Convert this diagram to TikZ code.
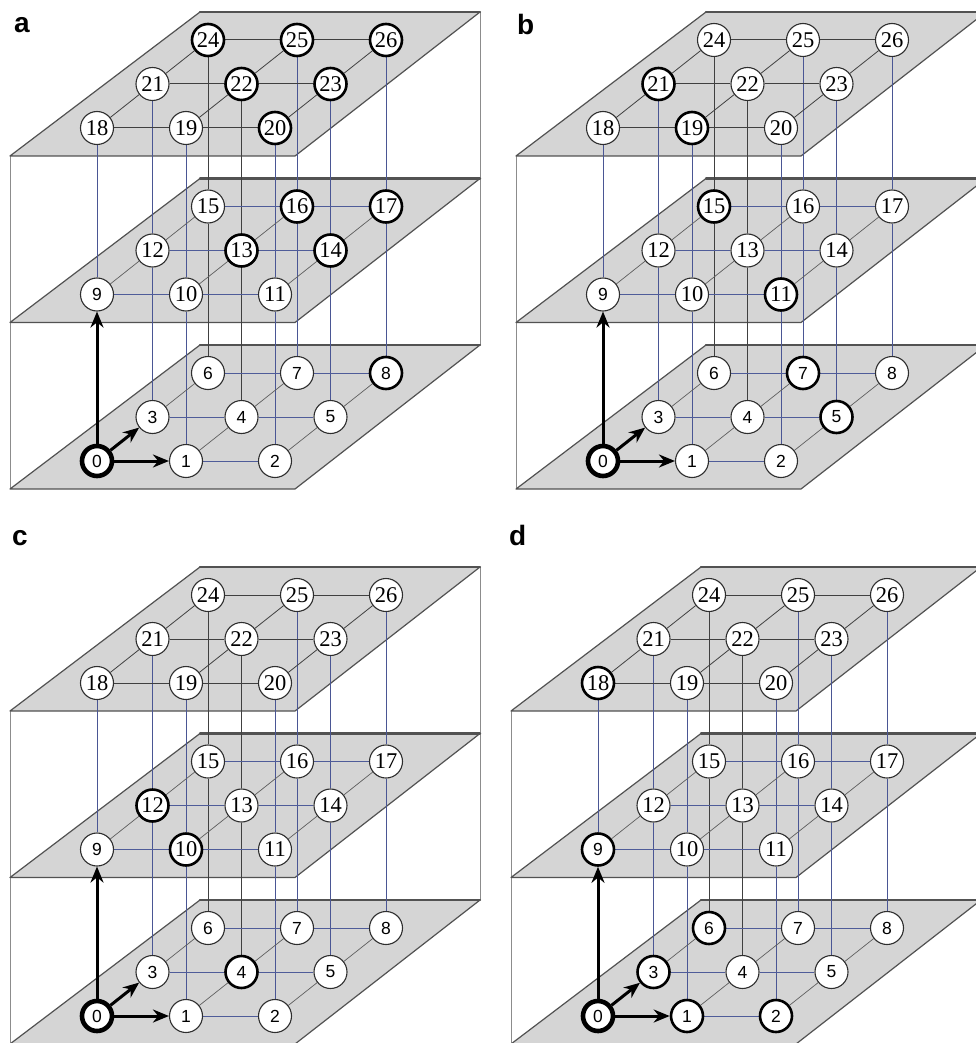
\documentclass[tikz,border=0pt]{standalone}
\usepackage{fontspec}
\setmainfont{Liberation Serif}
\setsansfont{Liberation Sans}
\usetikzlibrary{arrows.meta}
\pgfdeclarelayer{planes}
\pgfdeclarelayer{lines}
\pgfsetlayers{planes,lines,main}
\definecolor{planefill}{HTML}{D5D5D5}
\definecolor{planeedge}{HTML}{525252}
\definecolor{boxgray}{HTML}{8C8C8C}
\definecolor{hblue}{HTML}{4F5C99}
\definecolor{vblue}{HTML}{4A5694}
\definecolor{dgray}{HTML}{404040}
\definecolor{diaggray}{HTML}{5E5E5E}
\definecolor{ndedge}{HTML}{2E2E2E}
\tikzset{
  plainnode/.style={circle, draw=ndedge, fill=white, line width=1.1pt, minimum size=33pt, inner sep=0pt},
  nohi/.style={},
  hinode/.style={draw=black, line width=2.6pt, minimum size=32pt},
  orignode/.style={draw=black, line width=4.6pt, minimum size=30pt},
  numsf/.style={font=\sffamily\fontsize{17.5}{17.5}\selectfont},
  numrm/.style={font=\rmfamily\fontsize{22.5}{22.5}\selectfont},
  boxline/.style={draw=boxgray, line width=1pt},
  plane/.style={fill=planefill, draw=planeedge, line width=1.2pt, line join=round},
  backedge/.style={draw=planeedge, line width=2.4pt, line cap=round},
  hline/.style={draw=hblue, line width=1pt},
  toph/.style={draw=dgray, line width=1pt},
  dline/.style={draw=diaggray, line width=0.7pt},
  topd/.style={draw=dgray, line width=0.8pt},
  vline/.style={draw=vblue, line width=1pt},
  vdark/.style={draw=dgray, line width=1pt},
  bigarrow/.style={draw=black, line width=3pt, -{Stealth[length=16pt,width=13pt]}},
  panellab/.style={font=\sffamily\bfseries\fontsize{28}{28}\selectfont, inner sep=0pt, anchor=base west}
}
\newcommand\gridpanel[4]{%
 \begin{scope}[shift={(#2,#3)}]
  \begin{pgfonlayer}{planes}
   \draw[boxline] (-87,-305) -- (-87,28);
   \draw[boxline] (383,-449) -- (383,-116);
   \foreach \kk in {0,1,2}{%
     \pgfmathsetmacro\dz{-166.5*\kk}%
     \filldraw[plane] (-87,{28+\dz}) -- (198,{28+\dz}) -- (383,{-116+\dz}) -- (103,{-116+\dz}) -- cycle;
     \draw[backedge] (103,{-116+\dz}) -- (383,{-116+\dz});
   }
  \end{pgfonlayer}
  \foreach \kk in {0,1,2}{\foreach \jj in {0,1,2}{\foreach \ii in {0,1,2}{%
    \pgfmathtruncatemacro\nn{\ii+3*\jj+9*\kk}%
    \gdef\hsty{nohi}%
    \foreach \hh in {#4}{\ifnum\hh=\nn\relax\gdef\hsty{hinode}\fi}%
    \ifnum\nn=0\relax\gdef\hsty{orignode}\fi
    \ifnum\nn<10\relax\def\fsty{numsf}\else\def\fsty{numrm}\fi
    \node[plainnode,\fsty,\hsty] (#1\nn) at ({89*\ii+55.5*\jj},{-44*\jj-166.5*\kk}) {\nn};
  }}}
  \begin{pgfonlayer}{lines}
  \foreach \kk in {0,1,2}{\foreach \jj in {0,1,2}{\foreach \ii in {0,1,2}{%
    \pgfmathtruncatemacro\nn{\ii+3*\jj+9*\kk}%
    \ifnum\nn>0\relax
      \ifnum\ii<2\relax
        \pgfmathtruncatemacro\mm{\nn+1}%
        \ifnum\kk=2\relax\def\lsty{toph}\else\def\lsty{hline}\fi
        \draw[\lsty] (#1\nn) -- (#1\mm);
      \fi
      \ifnum\jj<2\relax
        \pgfmathtruncatemacro\mm{\nn+3}%
        \ifnum\kk=2\relax\def\lsty{topd}\else\def\lsty{dline}\fi
        \draw[\lsty] (#1\nn) -- (#1\mm);
      \fi
      \ifnum\kk<2\relax
        \pgfmathtruncatemacro\mm{\nn+9}%
        \def\lsty{vline}%
        \ifnum\jj>0\relax\ifnum\numexpr\ii+\jj\relax=2\relax\def\lsty{vdark}\fi\fi
        \draw[\lsty] (#1\nn) -- (#1\mm);
      \fi
    \fi
  }}}
  \end{pgfonlayer}
  \draw[bigarrow] (#10) -- (#19);
  \draw[bigarrow] (#10) -- (#11);
  \draw[bigarrow] (#10) -- (#13);
 \end{scope}
}
\begin{document}
\begin{tikzpicture}[x=1pt,y=-1pt]
\useasboundingbox (0,0) rectangle (976,1043);
\begin{pgfonlayer}{planes}
\fill[white] (0,0) rectangle (976,1043);
\end{pgfonlayer}
\gridpanel{a}{97}{461}{8,13,14,16,17,20,22,23,24,25,26}
\gridpanel{b}{603}{461}{5,7,11,15,19,21}
\gridpanel{c}{97}{1016}{4,10,12}
\gridpanel{d}{598}{1016}{1,2,3,6,9,18}
\node[panellab] (laba) at (14,33) {a};
\node[panellab] (labb) at (517,35) {b};
\node[panellab] (labc) at (12,545) {c};
\node[panellab] (labd) at (509,545) {d};
\end{tikzpicture}
\end{document}
